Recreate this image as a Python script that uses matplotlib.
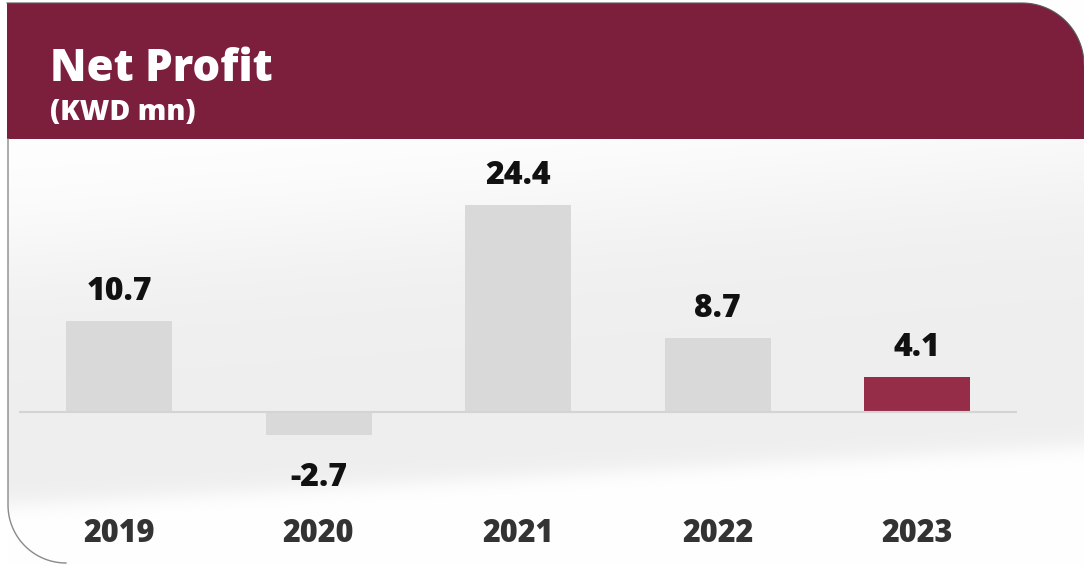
import numpy as np
import matplotlib
matplotlib.use("Agg")
import matplotlib.pyplot as plt
from matplotlib.patches import Polygon
import matplotlib.transforms as mtransforms

# Net profit by year (KWD mn)
years = ["2019", "2020", "2021", "2022", "2023"]
net_profit = [10.7, -2.7, 24.4, 8.7, 4.1]
value_labels = ["10.7", "-2.7", "24.4", "8.7", "4.1"]
bar_colors = ["#d9d9d9", "#d9d9d9", "#d9d9d9", "#d9d9d9", "#962d48"]

title = "Net Profit"
subtitle = "(KWD mn)"

MAROON = "#7b1f3c"
FONT = "Open Sans"
HEAVY = 800

W, H = 1084, 566
fig = plt.figure(figsize=(W / 100, H / 100), dpi=100)
fig.patch.set_facecolor("white")

# Decoration layer in pixel coordinates (origin top-left)
bg = fig.add_axes([0, 0, 1, 1])
bg.set_xlim(0, W)
bg.set_ylim(H, 0)
bg.axis("off")

# faint grey swoosh behind the bars (smooth shading)
gx, gy = np.meshgrid(np.arange(W), np.arange(H))
upper = 250 - 0.08 * gx
lower = 505 - 0.055 * gx
shade = 1 / (1 + np.exp(-(gy - upper) / 40.0)) * 1 / (1 + np.exp(-(lower - gy) / 6.0))
tone = 1.0 - 0.065 * shade
img = np.dstack([tone, tone, tone])
bg.imshow(img, extent=(0, W, H, 0), origin="upper", interpolation="bilinear",
          zorder=0, aspect="auto")
bg.set_xlim(0, W)
bg.set_ylim(H, 0)
bg.add_patch(Polygon([(0, 0), (8, 0), (8, H), (0, H)], closed=True,
                     facecolor="white", edgecolor="none", zorder=0.5))

# header band with a rounded top-right corner
r_top = 62
left, top, bottom, right = 7, 3, 139, W
t = np.linspace(np.pi / 2, 0, 40)
arc = np.column_stack([right - r_top + r_top * np.cos(t), top + r_top - r_top * np.sin(t)])
header = np.vstack([[left, top], arc, [right, bottom], [left, bottom]])
bg.add_patch(Polygon(header, closed=True, facecolor=MAROON, edgecolor="none", zorder=1))
bg.plot(np.r_[left, arc[:, 0]], np.r_[top, arc[:, 1]], color="#5a5a5a", lw=0.8, zorder=2)

# card border: left edge with rounded bottom-left corner
r_bot = 58
t2 = np.linspace(np.pi, 1.5 * np.pi, 40)
cx, cy = 8 + r_bot, H - 3 - r_bot
arc2 = np.column_stack([cx + r_bot * np.cos(t2), cy - r_bot * np.sin(t2)])
border = np.vstack([[8, bottom], arc2])
bg.plot(border[:, 0], border[:, 1], color="#8a8a8a", lw=1.0, zorder=2)

bg.text(50, 81, title, fontsize=31.5, fontweight=HEAVY, color="white",
        family=FONT, va="baseline", ha="left", zorder=3)
bg.text(50, 120, subtitle, fontsize=20.5, fontweight=HEAVY, color="white",
        family=FONT, va="baseline", ha="left", zorder=3)

# Bar layer: scales chosen so the zero line sits at y=412px
ax = fig.add_axes([0, 0, 1, 1])
ax.patch.set_alpha(0)
ax.axis("off")
px_per_unit = 8.48
zero_px = 412
first_center, step = 119, 199.5
ax.set_ylim(-(H - zero_px) / px_per_unit, zero_px / px_per_unit)
ax.set_xlim(-first_center / step, (W - first_center) / step)

x = np.arange(len(years))
ax.bar(x, net_profit, width=106 / step, color=bar_colors, zorder=3)
ax.hlines(0, -0.5, len(years) - 0.5, color="#d4d4d4", lw=1.5, zorder=4)

for xi, v, lab in zip(x, net_profit, value_labels):
    off_px = 21 if v >= 0 else -51
    ax.annotate(lab, (xi, v), xytext=(0, off_px * 0.72), textcoords="offset points",
                ha="center", va="baseline", fontsize=23, fontweight=HEAVY,
                color="#111111", family=FONT, zorder=5)

year_tr = mtransforms.blended_transform_factory(ax.transData, bg.transData)
for xi, yr in zip(x, years):
    ax.text(xi, 542, yr, transform=year_tr, ha="center", va="baseline",
            fontsize=22, fontweight=HEAVY, color="#333333", family=FONT, zorder=5)

fig.savefig("out.png", dpi=100)
